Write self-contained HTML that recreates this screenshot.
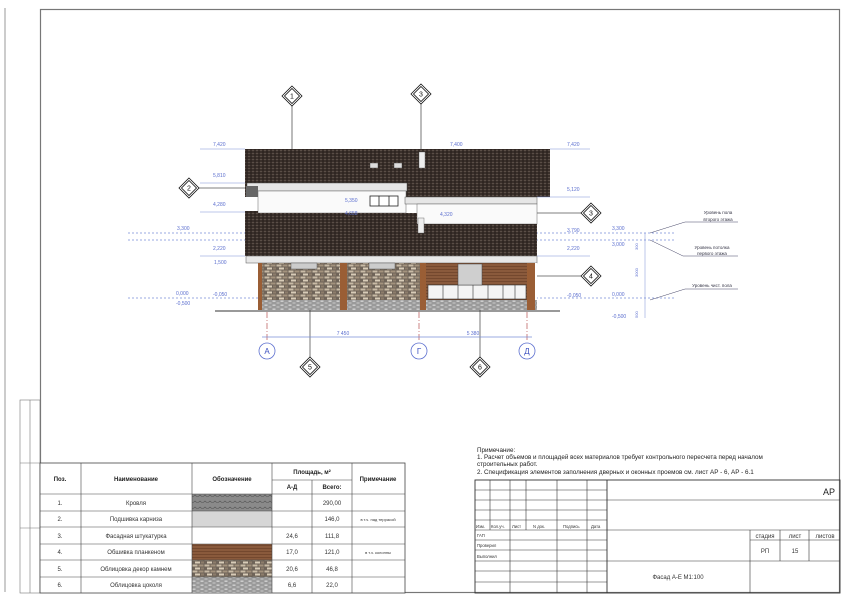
<!DOCTYPE html>
<html><head><meta charset="utf-8"><style>
html,body{margin:0;padding:0;background:#fff}
svg{display:block}
text{font-family:"Liberation Sans","DejaVu Sans",sans-serif}
</style></head><body>
<svg width="850" height="601" viewBox="0 0 850 601" xmlns="http://www.w3.org/2000/svg">
<defs>
<pattern id="roof" width="4" height="3" patternUnits="userSpaceOnUse">
<rect width="4" height="3" fill="#3a302b"/><rect x="0" y="0" width="2" height="1" fill="#5a4e47"/><rect x="2" y="1.5" width="2" height="1" fill="#241d19"/>
</pattern>
<pattern id="stone" width="12" height="6" patternUnits="userSpaceOnUse">
<rect width="12" height="6" fill="#6f6459"/><rect x="0.5" y="0.5" width="5" height="2" fill="#c9bba6"/><rect x="6.5" y="0.5" width="5" height="2" fill="#a3927d"/><rect x="3" y="3.5" width="5" height="2" fill="#d8ccb8"/><rect x="9" y="3.5" width="3" height="2" fill="#8c7d6b"/>
</pattern>
<pattern id="plinth" width="8" height="4" patternUnits="userSpaceOnUse">
<rect width="8" height="4" fill="#9a9a9a"/><rect x="0.5" y="0.5" width="3" height="1.4" fill="#d2d2d2"/><rect x="4.5" y="2.3" width="3" height="1.4" fill="#bdbdbd"/>
</pattern>
<pattern id="plank" width="10" height="3" patternUnits="userSpaceOnUse">
<rect width="10" height="3" fill="#8a5a3c"/><rect y="2.3" width="10" height="0.7" fill="#6a4028"/>
</pattern>
<pattern id="tile" width="10" height="6" patternUnits="userSpaceOnUse">
<rect width="10" height="6" fill="#8a8a8a"/><path d="M0 3 Q2.5 6 5 3 Q7.5 6 10 3" stroke="#555" fill="none" stroke-width="0.6"/>
</pattern>
</defs>

<!-- side strip -->
<line x1="5" y1="8" x2="5" y2="592" stroke="#999" stroke-width="1"/>
<rect x="20" y="400" width="20" height="193" fill="none" stroke="#777" stroke-width="0.6"/>
<line x1="30" y1="400" x2="30" y2="593" stroke="#777" stroke-width="0.6"/>
<line x1="20" y1="463" x2="40" y2="463" stroke="#777" stroke-width="0.6"/>
<line x1="20" y1="528" x2="40" y2="528" stroke="#777" stroke-width="0.6"/>
<!-- frame -->
<rect x="40.5" y="9.5" width="799" height="583" fill="none" stroke="#777" stroke-width="1.2"/>

<!-- leader lines -->
<g stroke="#555" stroke-width="0.8">
<line x1="292" y1="106" x2="292" y2="150"/>
<line x1="421" y1="104" x2="421" y2="150"/>
<line x1="198" y1="188" x2="250" y2="188"/>
<line x1="528" y1="213" x2="582" y2="213"/>
<line x1="510" y1="276" x2="582" y2="276"/>
<line x1="310" y1="310" x2="310" y2="357"/>
<line x1="480" y1="306" x2="480" y2="357"/>
</g>

<!-- level dashed lines -->
<g stroke="#7a8fd6" stroke-width="0.7" stroke-dasharray="2,2">
<line x1="128" y1="233" x2="675" y2="233"/>
<line x1="128" y1="240" x2="675" y2="240"/>
<line x1="128" y1="298" x2="675" y2="298"/>
</g>

<!-- building -->
<rect x="245" y="149" width="305" height="48" fill="url(#roof)"/>
<rect x="247" y="183" width="160" height="8" fill="#e6e6e6" stroke="#555" stroke-width="0.5"/>
<rect x="246" y="186" width="12" height="11" fill="#666"/>
<rect x="258" y="191" width="148" height="22" fill="#fafafa" stroke="#666" stroke-width="0.5"/>
<rect x="370" y="196" width="28" height="10" fill="#fff" stroke="#222" stroke-width="0.8"/>
<line x1="379" y1="196" x2="379" y2="206" stroke="#222" stroke-width="0.8"/><line x1="389" y1="196" x2="389" y2="206" stroke="#222" stroke-width="0.8"/>
<rect x="405" y="197" width="132" height="7" fill="#e6e6e6" stroke="#555" stroke-width="0.5"/>
<rect x="417" y="204" width="120" height="20" fill="#fafafa" stroke="#666" stroke-width="0.5"/>
<rect x="370" y="163" width="8" height="5" fill="#ddd" stroke="#333" stroke-width="0.4"/>
<rect x="394" y="163" width="8" height="5" fill="#ddd" stroke="#333" stroke-width="0.4"/>
<rect x="419" y="152" width="6" height="16" fill="#eee" stroke="#555" stroke-width="0.4"/>
<path d="M245 211 L258 211 L258 213 L417 213 L417 224 L537 224 L537 256 L245 256 Z" fill="url(#roof)"/>
<rect x="418" y="218" width="6" height="15" fill="#eee" stroke="#555" stroke-width="0.4"/>
<rect x="246" y="256" width="291" height="7" fill="#e8e8e8" stroke="#555" stroke-width="0.5"/>
<rect x="258" y="263" width="279" height="47" fill="#fff"/>
<rect x="262" y="263" width="78" height="37" fill="url(#stone)"/>
<rect x="347" y="263" width="73" height="37" fill="url(#stone)"/>
<rect x="426" y="263" width="101" height="37" fill="url(#plank)"/>
<rect x="258" y="300" width="279" height="10" fill="url(#plinth)"/>
<g fill="#9a5e35"><rect x="258" y="263" width="4" height="47"/><rect x="340" y="263" width="7" height="47"/><rect x="420" y="263" width="6" height="47"/><rect x="527" y="263" width="8" height="47"/></g>
<rect x="428" y="285" width="98" height="14" fill="#f4f4f4" stroke="#333" stroke-width="0.6"/>
<g stroke="#333" stroke-width="0.6"><line x1="443" y1="285" x2="443" y2="299"/><line x1="458" y1="285" x2="458" y2="299"/><line x1="473" y1="285" x2="473" y2="299"/><line x1="488" y1="285" x2="488" y2="299"/><line x1="503" y1="285" x2="503" y2="299"/><line x1="515" y1="285" x2="515" y2="299"/></g>
<rect x="458" y="264" width="24" height="21" fill="#cfcfcf" stroke="#444" stroke-width="0.5"/>
<rect x="291" y="263" width="26" height="6" fill="#ccc" stroke="#444" stroke-width="0.4"/>
<rect x="369" y="263" width="26" height="6" fill="#ccc" stroke="#444" stroke-width="0.4"/>
<line x1="215" y1="311" x2="560" y2="311" stroke="#333" stroke-width="1"/>

<!-- axis lines -->
<g stroke="#a33" stroke-width="0.6" stroke-dasharray="6,2,1,2">
<line x1="267" y1="312" x2="267" y2="342"/><line x1="419" y1="312" x2="419" y2="342"/><line x1="527" y1="312" x2="527" y2="342"/>
</g>
<line x1="262" y1="337" x2="532" y2="337" stroke="#7a8fd6" stroke-width="0.7"/>
<text x="343" y="335" font-size="5" fill="#5c6fcf" text-anchor="middle">7 450</text>
<text x="473" y="335" font-size="5" fill="#5c6fcf" text-anchor="middle">5 380</text>
<g fill="#fff" stroke="#5c6fcf" stroke-width="0.8">
<circle cx="267" cy="351" r="8"/><circle cx="419" cy="351" r="8"/><circle cx="527" cy="351" r="8"/></g>
<g font-size="8" fill="#3b4fc0" text-anchor="middle"><text x="267" y="354">А</text><text x="419" y="354">Г</text><text x="527" y="354">Д</text></g>

<!-- diamonds -->
<g fill="#fff" stroke="#111" stroke-width="0.8" font-size="7" text-anchor="middle">
<g transform="translate(292,96)"><path d="M0,-10 L10,0 L0,10 L-10,0Z"/><path d="M0,-7.5 L7.5,0 L0,7.5 L-7.5,0Z"/><text y="2.5" stroke="none" fill="#111">1</text></g>
<g transform="translate(421,94)"><path d="M0,-10 L10,0 L0,10 L-10,0Z"/><path d="M0,-7.5 L7.5,0 L0,7.5 L-7.5,0Z"/><text y="2.5" stroke="none" fill="#111">3</text></g>
<g transform="translate(189,188)"><path d="M0,-10 L10,0 L0,10 L-10,0Z"/><path d="M0,-7.5 L7.5,0 L0,7.5 L-7.5,0Z"/><text y="2.5" stroke="none" fill="#111">2</text></g>
<g transform="translate(591,213)"><path d="M0,-10 L10,0 L0,10 L-10,0Z"/><path d="M0,-7.5 L7.5,0 L0,7.5 L-7.5,0Z"/><text y="2.5" stroke="none" fill="#111">3</text></g>
<g transform="translate(591,276)"><path d="M0,-10 L10,0 L0,10 L-10,0Z"/><path d="M0,-7.5 L7.5,0 L0,7.5 L-7.5,0Z"/><text y="2.5" stroke="none" fill="#111">4</text></g>
<g transform="translate(310,367)"><path d="M0,-10 L10,0 L0,10 L-10,0Z"/><path d="M0,-7.5 L7.5,0 L0,7.5 L-7.5,0Z"/><text y="2.5" stroke="none" fill="#111">5</text></g>
<g transform="translate(480,367)"><path d="M0,-10 L10,0 L0,10 L-10,0Z"/><path d="M0,-7.5 L7.5,0 L0,7.5 L-7.5,0Z"/><text y="2.5" stroke="none" fill="#111">6</text></g>
</g>

<!-- level marks -->
<g font-size="5" fill="#5c6fcf">
<text x="213" y="146">7,420</text><text x="450" y="146">7,400</text><text x="567" y="146">7,420</text>
<text x="213" y="177">5,810</text><text x="567" y="191">5,120</text>
<text x="213" y="206">4,280</text><text x="345" y="202">5,350</text><text x="345" y="215">4,658</text><text x="440" y="216">4,320</text>
<text x="177" y="230">3,300</text><text x="567" y="232">3,790</text><text x="612" y="230">3,300</text><text x="612" y="246">3,000</text>
<text x="213" y="250">2,220</text><text x="567" y="250">2,220</text>
<text x="214" y="264">1,500</text>
<text x="176" y="295">0,000</text><text x="213" y="296">-0,050</text><text x="567" y="297">-0,050</text><text x="612" y="296">0,000</text>
<text x="176" y="305">-0,500</text><text x="612" y="318">-0,500</text>
</g>
<g stroke="#7a8fd6" stroke-width="0.5" fill="none">
<line x1="200" y1="149" x2="245" y2="149"/><line x1="550" y1="149" x2="590" y2="149"/>
<line x1="200" y1="183" x2="245" y2="183"/><line x1="537" y1="197" x2="590" y2="197"/>
<line x1="200" y1="212" x2="245" y2="212"/><line x1="200" y1="256" x2="245" y2="256"/><line x1="537" y1="256" x2="590" y2="256"/>
<line x1="645" y1="233" x2="645" y2="318"/>
</g>
<g font-size="4.5" fill="#334" text-anchor="middle">
<text x="718" y="214">Уровень пола</text><text x="718" y="221">второго этажа</text>
<text x="712" y="249">Уровень потолка</text><text x="712" y="255">первого этажа</text>
<text x="712" y="287">Уровень чист. пола</text>
</g>
<g stroke="#446" stroke-width="0.5">
<line x1="650" y1="233" x2="685" y2="222"/><line x1="685" y1="222" x2="738" y2="222"/>
<line x1="650" y1="240" x2="683" y2="256"/><line x1="683" y1="256" x2="738" y2="256"/>
<line x1="650" y1="300" x2="685" y2="289"/><line x1="685" y1="289" x2="738" y2="289"/>
</g>
<g font-size="4" fill="#5c6fcf"><text x="636" y="248" transform="rotate(-90 638 248)">300</text><text x="636" y="275" transform="rotate(-90 638 275)">3000</text><text x="636" y="316" transform="rotate(-90 638 316)">500</text></g>

<!-- notes -->
<g font-size="6.3" fill="#222">
<text x="477" y="452">Примечание:</text>
<text x="477" y="459">1. Расчет объемов и площадей всех материалов требует контрольного пересчета перед началом</text>
<text x="477" y="466">строительных работ.</text>
<text x="477" y="474">2. Спецификация элементов заполнения дверных и оконных проемов см. лист  АР - 6, АР - 6.1</text>
</g>

<!-- material table -->
<rect x="40" y="463" width="365" height="130" fill="#fff" stroke="#444" stroke-width="0.8"/>
<rect x="192" y="494" width="80" height="17" fill="url(#tile)"/>
<rect x="192" y="511" width="80" height="16" fill="#d6d6d6"/>
<rect x="192" y="544" width="80" height="16" fill="url(#plank)"/>
<rect x="192" y="560" width="80" height="17" fill="url(#stone)"/>
<rect x="192" y="577" width="80" height="16" fill="url(#plinth)"/>
<g stroke="#444" stroke-width="0.6">
<line x1="81" y1="463" x2="81" y2="593"/><line x1="192" y1="463" x2="192" y2="593"/><line x1="272" y1="463" x2="272" y2="593"/>
<line x1="312" y1="480" x2="312" y2="593"/><line x1="352" y1="463" x2="352" y2="593"/>
<line x1="272" y1="480" x2="352" y2="480"/>
<line x1="40" y1="494" x2="405" y2="494"/><line x1="40" y1="511" x2="405" y2="511"/><line x1="40" y1="527" x2="405" y2="527"/><line x1="40" y1="544" x2="405" y2="544"/><line x1="40" y1="560" x2="405" y2="560"/><line x1="40" y1="577" x2="405" y2="577"/>
</g>
<g font-size="6" font-weight="bold" fill="#222" text-anchor="middle">
<text x="60" y="481">Поз.</text><text x="136" y="481">Наименование</text><text x="232" y="481">Обозначение</text>
<text x="312" y="474">Площадь, м²</text><text x="292" y="489">А-Д</text><text x="332" y="489">Всего:</text><text x="378" y="481">Примечание</text>
</g>
<g font-size="6" fill="#333" text-anchor="middle">
<text x="60" y="505">1.</text><text x="136" y="505">Кровля</text><text x="332" y="505">290,00</text>
<text x="60" y="521">2.</text><text x="136" y="521">Подшивка карниза</text><text x="332" y="521">146,0</text>
<text x="60" y="538">3.</text><text x="136" y="538">Фасадная штукатурка</text><text x="292" y="538">24,6</text><text x="332" y="538">111,8</text>
<text x="60" y="554">4.</text><text x="136" y="554">Обшивка планкеном</text><text x="292" y="554">17,0</text><text x="332" y="554">121,0</text>
<text x="60" y="571">5.</text><text x="136" y="571">Облицовка декор камнем</text><text x="292" y="571">20,6</text><text x="332" y="571">46,8</text>
<text x="60" y="587">6.</text><text x="136" y="587">Облицовка цоколя</text><text x="292" y="587">6,6</text><text x="332" y="587">22,0</text>
<text x="378" y="521" font-size="4">в т.ч. над террасой</text><text x="378" y="554" font-size="4">в т.ч. колонны</text>
</g>

<!-- title block -->
<g stroke="#333" stroke-width="0.6" fill="none">
<rect x="475" y="480" width="365" height="113" stroke-width="0.9"/>
<line x1="607" y1="480" x2="607" y2="593" stroke-width="0.9"/>
<line x1="490" y1="480" x2="490" y2="530"/><line x1="510" y1="480" x2="510" y2="593"/><line x1="526" y1="480" x2="526" y2="530"/>
<line x1="557" y1="480" x2="557" y2="593"/><line x1="587" y1="480" x2="587" y2="593"/>
<line x1="475" y1="490" x2="607" y2="490"/><line x1="475" y1="500" x2="607" y2="500"/><line x1="475" y1="510" x2="607" y2="510"/><line x1="475" y1="520" x2="607" y2="520"/>
<line x1="475" y1="530" x2="607" y2="530"/><line x1="475" y1="540" x2="607" y2="540"/><line x1="475" y1="550" x2="607" y2="550"/>
<line x1="475" y1="561" x2="840" y2="561"/><line x1="475" y1="571" x2="607" y2="571"/><line x1="475" y1="582" x2="607" y2="582"/>
<line x1="607" y1="500" x2="840" y2="500"/><line x1="607" y1="530" x2="840" y2="530"/><line x1="750" y1="540" x2="840" y2="540"/>
<line x1="750" y1="530" x2="750" y2="593"/><line x1="780" y1="530" x2="780" y2="561"/><line x1="809" y1="530" x2="809" y2="561"/>
</g>
<g font-size="4.2" fill="#333">
<text x="476" y="528">Изм.</text><text x="491" y="528">Кол.уч.</text><text x="512" y="528">Лист</text><text x="533" y="528">N док.</text><text x="563" y="528">Подпись</text><text x="591" y="528">Дата</text>
<text x="477" y="537">ГАП</text><text x="477" y="547">Проверил</text><text x="477" y="558">Выполнил</text>
</g>
<text x="835" y="495" font-size="9" fill="#222" text-anchor="end">АР</text>
<g font-size="6" fill="#333" text-anchor="middle">
<text x="765" y="538">стадия</text><text x="795" y="538">лист</text><text x="825" y="538">листов</text>
<text x="765" y="553">РП</text><text x="795" y="553">15</text>
<text x="678" y="579">Фасад  А-Е М1:100</text>
</g>
</svg>
</body></html>
